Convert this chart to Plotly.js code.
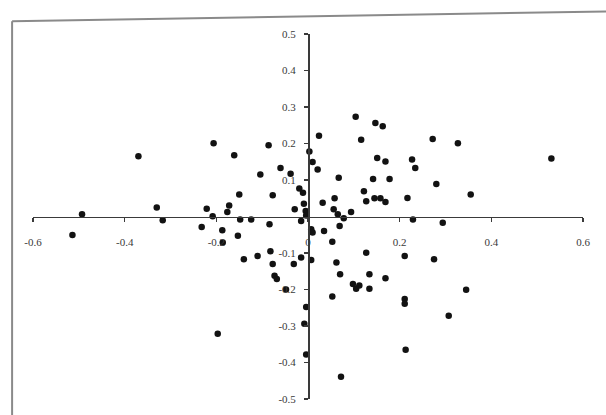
<!DOCTYPE html>
<html>
<head>
<meta charset="utf-8">
<script src="https://cdn.plot.ly/plotly-3.0.1.min.js"></script>
<style>
  html, body { margin: 0; padding: 0; background: #fff; }
  #chart { width: 606px; height: 415px; }
</style>
</head>
<body>
<div id="chart"></div>
<script>
// Point coordinates
const xValues = [
  -0.370, -0.206, -0.161, -0.104, -0.150, -0.330, -0.221, -0.172, -0.176, -0.086,
  -0.060, -0.038, -0.077, -0.019, -0.011, -0.009, -0.029, -0.005, -0.004, -0.493,
  -0.514, -0.317, -0.232, -0.208, -0.148, -0.124, -0.187, -0.186, -0.153, -0.084,
  -0.015,
  0.024, 0.104, 0.147, 0.163, 0.116, 0.003, 0.010, 0.021, 0.067,
  0.151, 0.169, 0.227, 0.234, 0.142, 0.178, 0.122, 0.127, 0.145, 0.158,
  0.169, 0.217, 0.058, 0.032, 0.272, 0.327, 0.531, 0.280, 0.355, 0.056,
  0.065, 0.078, 0.094,
  0.229, 0.294, 0.007, 0.010, 0.035, 0.053, 0.069, 0.007, 0.062, 0.070,
  0.053, 0.098, 0.105, 0.112, 0.134, 0.134, 0.127, 0.169, 0.211, 0.275,
  0.345, 0.211, 0.211, 0.307, 0.072, 0.213,
  -0.082, -0.110, -0.140, -0.077, -0.031, -0.015, -0.073, -0.068, -0.048, -0.004,
  -0.008, -0.004, -0.197
];
const yValues = [
  0.165, 0.201, 0.168, 0.115, 0.060, 0.025, 0.021, 0.030, 0.012, 0.195,
  0.133, 0.117, 0.058, 0.077, 0.065, 0.035, 0.020, 0.015, 0.003, 0.006,
  -0.051, -0.010, -0.029, 0.001, -0.008, -0.008, -0.038, -0.071, -0.053, -0.021,
  -0.012,
  0.221, 0.273, 0.256, 0.247, 0.210, 0.178, 0.149, 0.129, 0.106,
  0.160, 0.151, 0.156, 0.133, 0.103, 0.103, 0.069, 0.042, 0.050, 0.050,
  0.040, 0.051, 0.050, 0.038, 0.212, 0.201, 0.159, 0.089, 0.060, 0.020,
  0.006, -0.005, 0.012,
  -0.008, -0.017, -0.035, -0.044, -0.040, -0.069, -0.026, -0.119, -0.126, -0.158,
  -0.219, -0.185, -0.198, -0.189, -0.158, -0.198, -0.099, -0.169, -0.108, -0.117,
  -0.201, -0.226, -0.239, -0.272, -0.439, -0.365,
  -0.095, -0.108, -0.117, -0.130, -0.130, -0.112, -0.162, -0.171, -0.200, -0.248,
  -0.294, -0.378, -0.321
];

const xTickVals = [-0.6, -0.4, -0.2, 0, 0.2, 0.4, 0.6];
const xTickText = ['-0.6', '-0.4', '-0.2', '0', '0.2', '0.4', '0.6'];
const yTickVals = [0.5, 0.4, 0.3, 0.2, 0.1, -0.1, -0.2, -0.3, -0.4, -0.5];
const yTickText = ['0.5', '0.4', '0.3', '0.2', '0.1', '-0.1', '-0.2', '-0.3', '-0.4', '-0.5'];

const tickFont = { family: '"Liberation Serif", "Times New Roman", serif', size: 11, color: '#3a3a3a' };

const trace = {
  type: 'scatter',
  mode: 'markers',
  x: xValues,
  y: yValues,
  marker: { size: 6.5, color: '#121212' },
  cliponaxis: false,
  hoverinfo: 'skip'
};

const layout = {
  width: 606,
  height: 415,
  margin: { l: 33, r: 23, t: 34, b: 16, pad: 0 },
  paper_bgcolor: '#ffffff',
  plot_bgcolor: 'rgba(0,0,0,0)',
  showlegend: false,
  xaxis: {
    range: [-0.6, 0.6],
    anchor: 'free',
    position: 0.5,
    showgrid: false,
    zeroline: false,
    showline: true,
    linecolor: '#3a3a3a',
    linewidth: 1.5,
    ticks: 'outside',
    ticklen: 4,
    tickwidth: 1.2,
    tickcolor: '#3a3a3a',
    tickmode: 'array',
    tickvals: xTickVals,
    ticktext: xTickText,
    ticklabelstandoff: 11,
    tickfont: tickFont
  },
  yaxis: {
    range: [-0.5, 0.5],
    anchor: 'free',
    position: 0.5,
    showgrid: false,
    zeroline: false,
    showline: true,
    linecolor: '#3a3a3a',
    linewidth: 1.5,
    ticks: 'outside',
    ticklen: 4,
    tickwidth: 1.2,
    tickcolor: '#3a3a3a',
    tickmode: 'array',
    tickvals: yTickVals,
    ticktext: yTickText,
    ticklabelstandoff: 6,
    tickfont: tickFont
  },
  shapes: [
    { type: 'line', xref: 'paper', yref: 'paper', x0: -0.038, y0: 1.035, x1: -0.038, y1: -0.05,
      line: { color: '#8a8a8a', width: 2 } },
    { type: 'line', xref: 'paper', yref: 'paper', x0: -0.038, y0: 1.035, x1: 1.05, y1: 1.062,
      line: { color: '#8a8a8a', width: 2 } }
  ]
};

Plotly.newPlot('chart', [trace], layout, { staticPlot: true, displayModeBar: false });
</script>
</body>
</html>
